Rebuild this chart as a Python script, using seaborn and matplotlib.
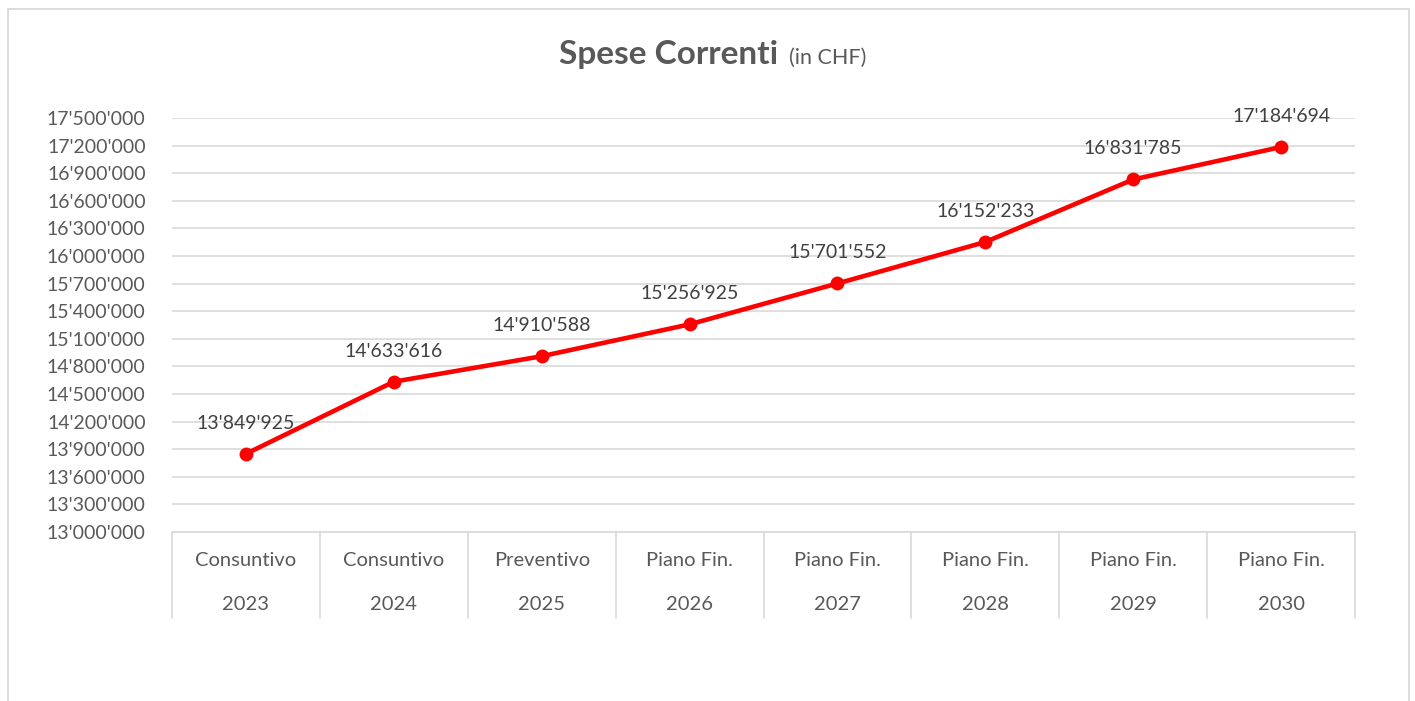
import matplotlib
matplotlib.use("Agg")
import matplotlib.pyplot as plt
import seaborn as sns
from matplotlib.patches import Rectangle
from matplotlib.ticker import FuncFormatter

# dati
anni = [2023, 2024, 2025, 2026, 2027, 2028, 2029, 2030]
tipi = ["Consuntivo", "Consuntivo", "Preventivo", "Piano Fin.",
        "Piano Fin.", "Piano Fin.", "Piano Fin.", "Piano Fin."]
spese = [13849925, 14633616, 14910588, 15256925,
         15701552, 16152233, 16831785, 17184694]
tick_y = list(range(13000000, 17500001, 300000))

GRIGIO = "#595959"
LINEE = "#d9d9d9"

sns.set_style("white")
plt.rcParams["font.family"] = ["Lato", "DejaVu Sans"]

W, H = 1415, 701
fig = plt.figure(figsize=(W / 100, H / 100), dpi=100)
ax = fig.add_axes([172 / W, (H - 532) / H, (1355 - 172) / W, (532 - 118) / H])

sns.lineplot(x=anni, y=spese, ax=ax, color="#ff0000", linewidth=3.3,
             marker="o", markersize=10, markeredgewidth=0)

fmt = lambda v, p=None: f"{v:,.0f}".replace(",", "'")

for x, y in zip(anni, spese):
    ax.annotate(fmt(y), (x, y), xytext=(0, 22), textcoords="offset points",
                ha="center", va="center", fontsize=14, color="#404040")

ax.set_xlim(anni[0] - 0.5, anni[-1] + 0.5)
ax.set_ylim(tick_y[0], tick_y[-1])
ax.set_yticks(tick_y)
ax.yaxis.set_major_formatter(FuncFormatter(fmt))
ax.grid(axis="y", color=LINEE, linewidth=1.2)
ax.set_axisbelow(True)
ax.tick_params(axis="y", length=0, pad=19, labelsize=14, labelcolor=GRIGIO)
ax.set_xticks([])
ax.set_xlabel("")
ax.set_ylabel("")
for s in ["top", "right", "left"]:
    ax.spines[s].set_visible(False)
ax.spines["bottom"].set_color(LINEE)
ax.spines["bottom"].set_linewidth(1.2)

# asse categorie a due livelli
trans = ax.get_xaxis_transform()
for i in range(len(anni) + 1):
    xv = anni[0] - 0.5 + i
    ax.plot([xv, xv], [0, -0.208], transform=trans, color=LINEE,
            linewidth=1.2, clip_on=False)
for x, t in zip(anni, tipi):
    ax.text(x, -0.070, t, transform=trans, ha="center", va="center",
            fontsize=14.5, color=GRIGIO)
    ax.text(x, -0.174, str(x), transform=trans, ha="center", va="center",
            fontsize=14.5, color=GRIGIO)

# titolo
fig.text(778 / W, (H - 64) / H, "Spese Correnti", ha="right",
         va="baseline", fontsize=24, fontweight="bold", color=GRIGIO)
fig.text(789 / W, (H - 64) / H, "(in CHF)", ha="left", va="baseline",
         fontsize=15.5, color=GRIGIO)

# cornice
fig.add_artist(Rectangle((8 / W, -0.02), (1409 - 8) / W, (H - 9) / H + 0.02,
                         transform=fig.transFigure, fill=False,
                         edgecolor=LINEE, linewidth=1.3))

fig.savefig("out.png", dpi=100)
